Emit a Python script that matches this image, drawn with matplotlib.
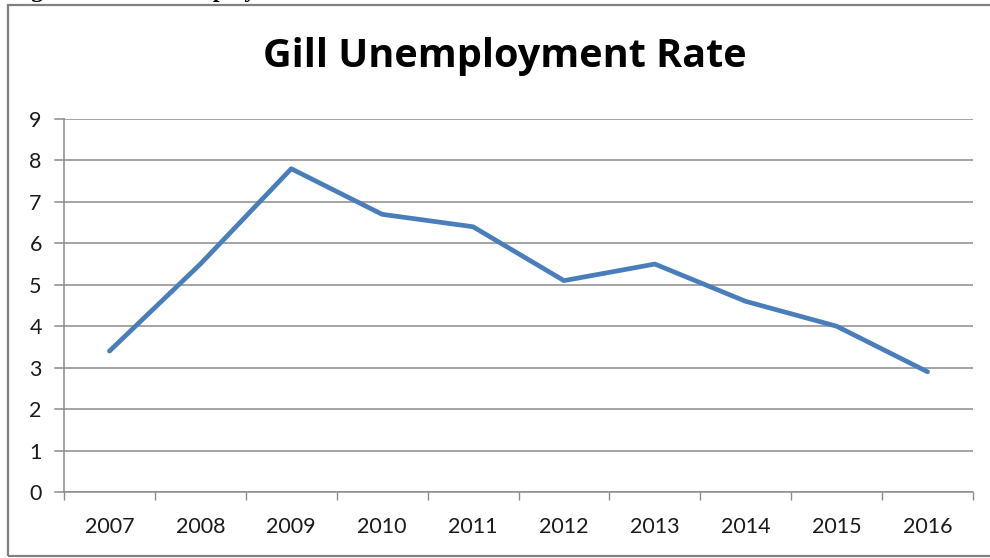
import matplotlib
matplotlib.use("Agg")
import matplotlib.pyplot as plt
from matplotlib.patches import Rectangle

years = ["2007", "2008", "2009", "2010", "2011", "2012", "2013", "2014", "2015", "2016"]
rates = [3.4, 5.5, 7.8, 6.7, 6.4, 5.1, 5.5, 4.6, 4.0, 2.9]
y_ticks = [0, 1, 2, 3, 4, 5, 6, 7, 8, 9]
title = "Gill Unemployment Rate"
caption = "Figure 4: Gill Unemployment Rate"

W, H = 990, 558
fig = plt.figure(figsize=(W / 100, H / 100), dpi=100)
fig.patch.set_facecolor("white")

font = ["Lato", "DejaVu Sans"]
grid_col = "#8c8c8c"

# caption sitting above the chart frame (mostly off the top of the page)
fig.text(10 / W, 1 + 3 / H, caption, family=["Liberation Serif"], fontweight="bold",
         fontsize=17, color="black", ha="left", va="baseline")

# chart frame
fig.patches.append(Rectangle((8 / W, 1 - 556 / H), 1.2, (556 - 5) / H,
                             transform=fig.transFigure, fill=False,
                             edgecolor="#808080", linewidth=1.6))

left, right, top, bottom = 64, 973, 119, 492
ax = fig.add_axes([left / W, 1 - bottom / H, (right - left) / W, (bottom - top) / H])
ax.set_facecolor("white")

x = list(range(len(years)))
ax.plot(x, rates, color="#4a7ebb", linewidth=3.4, solid_capstyle="round",
        solid_joinstyle="round", zorder=3)

ax.set_xlim(-0.5, len(years) - 0.5)
ax.set_ylim(0, 9)
ax.set_yticks(y_ticks)
ax.set_yticklabels([str(v) for v in y_ticks], family=font, fontsize=15.5, color="#1a1a1a")
ax.set_xticks(x)
ax.set_xticklabels(years, family=font, fontsize=15.5, color="#1a1a1a")
ax.tick_params(axis="x", length=0, pad=18)
ax.tick_params(axis="y", length=0, pad=16)

# category boundary ticks on the x axis
ax.set_xticks([i - 0.5 for i in range(len(years) + 1)], minor=True)
ax.tick_params(axis="x", which="minor", length=6, width=1, color=grid_col, direction="out")

ax.grid(axis="y", color=grid_col, linewidth=1.1)
ax.set_axisbelow(True)
for s in ["top", "right"]:
    ax.spines[s].set_visible(False)
ax.spines["left"].set_color(grid_col)
ax.spines["bottom"].set_color(grid_col)
ax.spines["left"].set_linewidth(1.1)
ax.spines["bottom"].set_linewidth(1.1)

# y-axis tick marks extending left of the axis
for v in y_ticks:
    ax.plot([-0.5 - 0.1, -0.5], [v, v], color=grid_col, linewidth=1.1,
            clip_on=False, zorder=1)

fig.text(505 / W, 1 - 57 / H, title, family=["Open Sans", "DejaVu Sans"], fontweight="bold",
         fontsize=28.5, ha="center", va="center", color="black")

fig.savefig("out.png", dpi=100, facecolor="white")
